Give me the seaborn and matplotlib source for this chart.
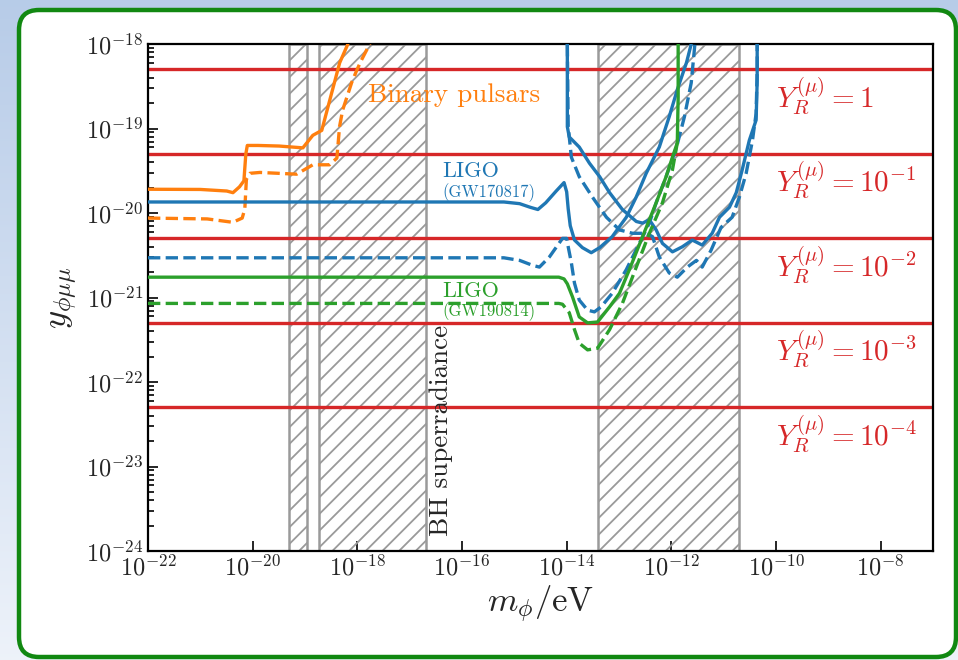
import numpy as np
import matplotlib
matplotlib.use("Agg")
import matplotlib.pyplot as plt
from matplotlib.patches import FancyBboxPatch
from matplotlib.ticker import LogLocator, NullLocator
import seaborn as sns

# ---------------- data ----------------
# Binary pulsar bounds (mass in eV, coupling)
pulsar_m = [1e-22, 1e-21, 3.2e-21, 4.2e-21, 5.6e-21, 6.8e-21, 7.4e-21, 7.9e-21,
            1.26e-20, 3.2e-20, 9.1e-20, 1.41e-19, 2.09e-19, 4.6e-19, 6.6e-19]
pulsar_y = [1.91e-20, 1.90e-20, 1.82e-20, 1.74e-20, 2.04e-20, 2.4e-20, 5.0e-20, 6.3e-20,
            6.3e-20, 6.2e-20, 5.9e-20, 8.3e-20, 9.5e-20, 6.0e-19, 1.0e-18]
pulsar_dash_m = [1e-22, 1.35e-21, 3.16e-21, 4.17e-21, 6.31e-21, 7.08e-21, 7.59e-21, 8.91e-21,
                 1.38e-20, 6.92e-20, 1.41e-19, 2.95e-19, 4.07e-19, 4.57e-19, 5.25e-19,
                 6.31e-19, 7.76e-19, 9.77e-19, 1.20e-18, 1.51e-18, 1.74e-18]
pulsar_dash_y = [8.71e-21, 8.51e-21, 7.94e-21, 7.76e-21, 8.71e-21, 1.12e-20, 2.51e-20, 2.95e-20,
                 3.02e-20, 2.88e-20, 3.72e-20, 3.72e-20, 4.47e-20, 1.05e-19, 1.66e-19,
                 2.34e-19, 3.47e-19, 4.90e-19, 6.46e-19, 8.51e-19, 1.02e-18]

# LIGO GW170817, two branches, solid and dashed
gw17_a_m = [1e-22, 6.31e-16, 1.26e-15, 2.0e-15, 2.82e-15, 3.98e-15, 6.31e-15, 8.91e-15,
            1.0e-14, 1.07e-14, 1.17e-14, 1.41e-14, 2.0e-14, 2.95e-14, 4.27e-14, 7.41e-14,
            1.38e-13, 2.14e-13, 3.31e-13, 5.89e-13, 9.12e-13, 1.30e-12, 1.95e-12, 2.40e-12]
gw17_a_y = [1.35e-20, 1.35e-20, 1.29e-20, 1.17e-20, 1.10e-20, 1.32e-20, 1.82e-20, 2.29e-20,
            1.78e-20, 1.12e-20, 7.08e-21, 4.79e-21, 3.89e-21, 3.39e-21, 3.89e-21, 5.25e-21,
            8.91e-21, 1.55e-20, 2.95e-20, 6.03e-20, 1.38e-19, 2.88e-19, 6.03e-19, 1.0e-18]
gw17_b_m = [1.03e-14, 1.03e-14, 1.12e-14, 1.74e-14, 2.72e-14, 4.27e-14, 6.61e-14, 1.16e-13,
            2.14e-13, 2.82e-13, 3.80e-13, 5.13e-13, 6.76e-13, 1.05e-12, 1.62e-12, 2.51e-12,
            3.89e-12, 6.03e-12, 8.32e-12, 1.29e-11, 1.74e-11, 2.26e-11, 3.09e-11, 4.17e-11,
            4.37e-11, 4.37e-11]
gw17_b_y = [1e-18, 1.05e-19, 7.94e-20, 6.03e-20, 3.89e-20, 2.69e-20, 1.74e-20, 1.10e-20,
            7.94e-21, 7.59e-21, 8.32e-21, 6.31e-21, 4.37e-21, 3.47e-21, 3.98e-21, 4.79e-21,
            4.17e-21, 5.75e-21, 8.91e-21, 1.17e-20, 1.74e-20, 3.24e-20, 7.24e-20, 1.26e-19,
            3.72e-19, 1e-18]
gw17_a_dash_m = [1e-22, 6.31e-16, 1.26e-15, 2.24e-15, 3.02e-15, 4.68e-15, 8.32e-15, 1.0e-14,
                 1.07e-14, 1.23e-14, 1.41e-14, 1.74e-14, 2.51e-14, 3.39e-14, 4.57e-14, 7.41e-14,
                 1.38e-13, 2.45e-13, 3.80e-13, 5.13e-13, 7.94e-13, 1.26e-12, 1.78e-12, 2.40e-12,
                 2.82e-12]
gw17_a_dash_y = [2.95e-21, 2.95e-21, 2.75e-21, 2.40e-21, 2.29e-21, 3.02e-21, 5.01e-21, 5.01e-21,
                 3.98e-21, 2.57e-21, 1.48e-21, 9.33e-22, 7.08e-22, 6.76e-22, 7.76e-22, 1.12e-21,
                 2.14e-21, 4.37e-21, 7.59e-21, 1.32e-20, 2.69e-20, 6.03e-20, 1.38e-19, 3.47e-19,
                 1e-18]
gw17_b_dash_m = [1.03e-14, 1.07e-14, 1.23e-14, 1.74e-14, 3.09e-14, 5.75e-14, 1.02e-13, 1.82e-13,
                 3.31e-13, 4.37e-13, 5.89e-13, 9.12e-13, 1.30e-12, 2.02e-12, 3.02e-12, 3.89e-12,
                 5.75e-12, 8.91e-12, 1.45e-11, 2.0e-11, 2.69e-11, 3.55e-11, 4.17e-11, 4.37e-11,
                 4.37e-11]
gw17_b_dash_y = [1e-18, 1.05e-19, 4.57e-20, 2.69e-20, 1.55e-20, 8.91e-21, 6.31e-21, 5.75e-21,
                 5.75e-21, 5.25e-21, 3.02e-21, 1.95e-21, 1.74e-21, 2.29e-21, 2.75e-21, 2.29e-21,
                 3.63e-21, 6.76e-21, 8.91e-21, 1.55e-20, 2.95e-20, 7.24e-20, 1.51e-19, 4.90e-19,
                 1e-18]

# LIGO GW190814
gw19_m = [1e-22, 7.08e-15, 8.91e-15, 1.03e-14, 1.29e-14, 1.74e-14, 2.51e-14, 3.89e-14,
          6.61e-14, 1.02e-13, 1.58e-13, 2.82e-13, 5.13e-13, 7.94e-13, 1.05e-12, 1.30e-12,
          1.35e-12, 1.35e-12]
gw19_y = [1.74e-21, 1.74e-21, 1.66e-21, 1.45e-21, 1.02e-21, 5.89e-22, 5.01e-22, 5.13e-22,
          7.76e-22, 1.12e-21, 2.14e-21, 5.25e-21, 1.32e-20, 2.69e-20, 4.57e-20, 6.76e-20,
          2.34e-19, 1e-18]
gw19_dash_m = [1e-22, 7.08e-15, 8.32e-15, 1.12e-14, 1.41e-14, 1.74e-14, 2.51e-14, 3.89e-14,
               6.61e-14, 1.16e-13, 2.14e-13, 3.80e-13, 6.76e-13, 1.05e-12, 1.30e-12]
gw19_dash_y = [8.51e-22, 8.51e-22, 8.32e-22, 6.61e-22, 4.17e-22, 2.88e-22, 2.40e-22, 2.51e-22,
               4.17e-22, 8.51e-22, 2.29e-21, 5.75e-21, 1.32e-20, 3.24e-20, 6.76e-20]

# Couplings for fixed Y_R^(mu)
yr_values = [1, 1e-1, 1e-2, 1e-3, 1e-4]
yr_labels = [r"$Y_R^{(\mu)} = 1$", r"$Y_R^{(\mu)} = 10^{-1}$", r"$Y_R^{(\mu)} = 10^{-2}$",
             r"$Y_R^{(\mu)} = 10^{-3}$", r"$Y_R^{(\mu)} = 10^{-4}$"]
yr_coupling = [5e-19, 5e-20, 5e-21, 5e-22, 5e-23]

# Mass windows excluded by BH superradiance
bh_windows = [(4.9e-20, 1.08e-19), (1.83e-19, 2.02e-17), (4.05e-14, 2.0e-11)]

x_ticks = [1e-22, 1e-20, 1e-18, 1e-16, 1e-14, 1e-12, 1e-10, 1e-8]

C_ORANGE, C_BLUE, C_GREEN, C_RED = "#ff7f0e", "#1f77b4", "#2ca02c", "#d62728"

# ---------------- style ----------------
sns.set_style("ticks")
plt.rcParams["font.family"] = ["cmr10", "DejaVu Serif"]
plt.rcParams["mathtext.fontset"] = "cm"
plt.rcParams["axes.formatter.use_mathtext"] = True
plt.rcParams["hatch.linewidth"] = 1.3
plt.rcParams["hatch.color"] = "#9a9a9a"

W, H = 958, 660
fig = plt.figure(figsize=(W / 100, H / 100), dpi=100)

# page background with framed panel
bg = fig.add_axes([0, 0, 1, 1], zorder=-10)
top = np.array([0.72, 0.80, 0.91])
bottom = np.array([0.93, 0.95, 0.98])
t = np.linspace(0, 1, 200)[:, None]
grad = (top * (1 - t) + bottom * t)[:, None, :] * np.ones((1, 4, 1))
bg.imshow(grad, extent=[0, W, H, 0], aspect="auto", interpolation="bilinear")
bg.add_patch(FancyBboxPatch((19, 10), 937, 647, boxstyle="round,pad=0,rounding_size=20",
                            facecolor="white", edgecolor="#118811", linewidth=3.2))
bg.set_xlim(0, W)
bg.set_ylim(H, 0)
bg.axis("off")

ax = fig.add_axes([148 / W, 1 - 551 / H, (933 - 148) / W, (551 - 44) / H])
ax.set_xscale("log")
ax.set_yscale("log")
ax.set_xlim(1e-22, 1e-7)
ax.set_ylim(1e-24, 1e-18)

for x0, x1 in bh_windows:
    ax.axvspan(x0, x1, facecolor="none", edgecolor="#9a9a9a", hatch="//",
               linewidth=1.8, zorder=1)

for yc in yr_coupling:
    ax.axhline(yc, color=C_RED, lw=2.4, zorder=2)

curves = [
    (pulsar_m, pulsar_y, C_ORANGE, "-"),
    (pulsar_dash_m, pulsar_dash_y, C_ORANGE, "--"),
    (gw17_a_m, gw17_a_y, C_BLUE, "-"),
    (gw17_b_m, gw17_b_y, C_BLUE, "-"),
    (gw17_a_dash_m, gw17_a_dash_y, C_BLUE, "--"),
    (gw17_b_dash_m, gw17_b_dash_y, C_BLUE, "--"),
    (gw19_dash_m, gw19_dash_y, C_GREEN, "--"),
    (gw19_m, gw19_y, C_GREEN, "-"),
]
for m, y, c, ls in curves:
    sns.lineplot(x=m, y=y, ax=ax, color=c, linestyle=ls, linewidth=2.4,
                 sort=False, estimator=None, zorder=3)

# annotations
ax.text(1.6e-18, 2.5e-19, "Binary pulsars", color=C_ORANGE, fontsize=19.5,
        ha="left", va="center")
ax.text(4.2e-17, 3.1e-20, "LIGO", color=C_BLUE, fontsize=16, ha="left", va="center")
ax.text(4.2e-17, 1.74e-20, "(GW170817)", color=C_BLUE, fontsize=12, ha="left", va="center")
ax.text(4.2e-17, 1.2e-21, "LIGO", color=C_GREEN, fontsize=16, ha="left", va="center")
ax.text(4.2e-17, 6.8e-22, "(GW190814)", color=C_GREEN, fontsize=12, ha="left", va="center")
ax.text(4.0e-17, 1.5e-24, "BH superradiance", rotation=90, fontsize=19.5,
        ha="center", va="bottom")
for yc, lab in zip(yr_coupling, yr_labels):
    ax.text(1.0e-10, yc * 0.48, lab, color=C_RED, fontsize=21, ha="left", va="center")

ax.set_xticks(x_ticks)
ax.xaxis.set_minor_locator(NullLocator())
ax.yaxis.set_major_locator(LogLocator(base=10, numticks=10))
ax.yaxis.set_minor_locator(LogLocator(base=10, subs=np.arange(2, 10), numticks=10))
ax.tick_params(which="both", direction="in", top=False, right=False, labelsize=17.5, width=1.4)
ax.tick_params(which="major", length=7)
ax.tick_params(which="minor", length=4)
ax.tick_params(axis="x", pad=3)
for s in ax.spines.values():
    s.set_linewidth(1.6)
    s.set_color("black")

ax.set_xlabel(r"$m_\phi/\mathrm{eV}$", fontsize=25, labelpad=2)
ax.set_ylabel(r"$y_{\phi\mu\mu}$", fontsize=25, labelpad=4)

fig.savefig("out.png", dpi=100)
